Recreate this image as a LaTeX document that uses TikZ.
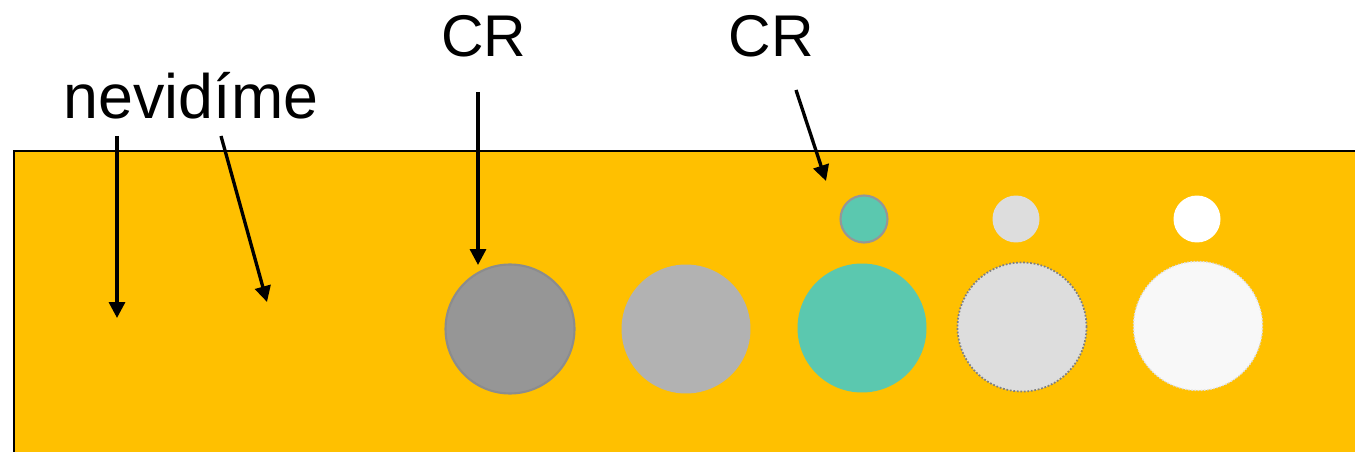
\documentclass[tikz,border=0pt]{standalone}
\usepackage{fontspec}
\setmainfont{Liberation Sans}
\usepackage{tikz}
\usetikzlibrary{arrows.meta}

\definecolor{bgorange}{HTML}{FFC000}
\definecolor{darkgr}{HTML}{969696}
\definecolor{midgr}{HTML}{B2B2B2}
\definecolor{teal}{HTML}{5BC8AF}
\definecolor{lightgr}{HTML}{DDDDDD}
\definecolor{offwhite}{HTML}{F8F8F8}

\begin{document}
\begin{tikzpicture}[
                x=0.02cm, y=-0.02cm,
                big/.style={circle, inner sep=0pt, minimum size=2.58cm}, % large balls
                small/.style={circle, inner sep=0pt, minimum size=0.94cm}, % small balls
                label/.style={anchor=base, inner sep=0pt, font=\fontsize{33.5}{40}\selectfont},
                pointer/.style={line width=1.9pt, -{Triangle[width=9pt, length=9pt]}}
                ]
                \clip (0,0) rectangle (1355,452);
                % ground
                \fill[bgorange] (14,151) rectangle (1380,480);
                \draw[line width=1.3pt] (14,480) -- (14,151) -- (1380,151);
                % balls
                \node[big, fill=darkgr, draw=gray!90, line width=1.2pt] (b1) at (510,329) {};
                \node[big, fill=midgr] (b2) at (686,329) {};
                \node[big, fill=teal] (b3) at (862,328) {};
                \node[big, fill=lightgr, draw=gray, densely dotted, line width=1pt] (b4) at (1022,327) {};
                \node[big, fill=offwhite, draw=lightgr, densely dotted, line width=0.8pt] (b5) at (1198,326) {};
                \node[small, fill=teal, draw=darkgr, line width=1.2pt] (s3) at (864,219) {};
                \node[small, fill=lightgr] (s4) at (1016,219) {};
                \node[small, fill=white] (s5) at (1197,219) {};
                % labels
                \node[label, font=\fontsize{35.7}{42}\selectfont] (nev) at (191,118.3) {nevidíme};
                \node[label] (cr1) at (484,57) {CR};
                \node[label] (cr2) at (771,57) {CR};
                % arrows
                \coordinate (nevA) at (117,136);
                \coordinate (nevB) at (221,136);
                \coordinate (cr1A) at (478,92);
                \coordinate (cr2A) at (796,90);
                \coordinate (hidA) at (117,318);
                \coordinate (hidB) at (267,302);
                \coordinate (cr1B) at (478,265);
                \coordinate (cr2B) at (826,181);
                \draw[pointer] (nevA) -- (hidA);
                \draw[pointer] (nevB) -- (hidB);
                \draw[pointer] (cr1A) -- (cr1B);
                \draw[pointer] (cr2A) -- (cr2B);
            \end{tikzpicture}
\end{document}
